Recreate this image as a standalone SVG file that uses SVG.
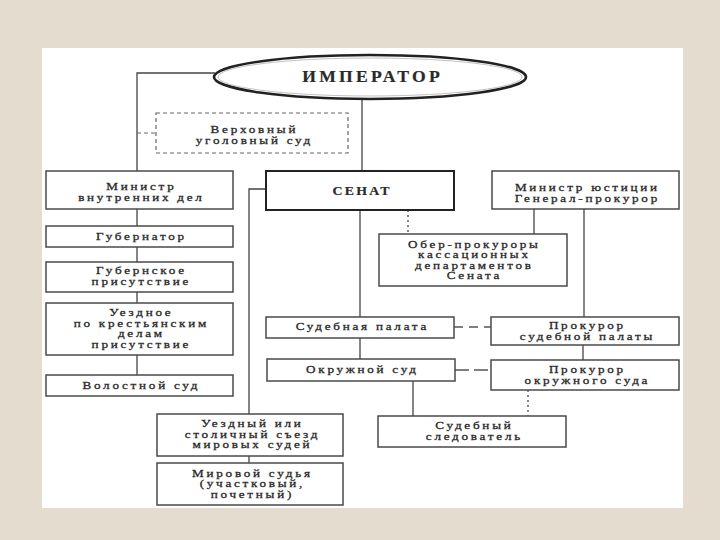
<svg xmlns="http://www.w3.org/2000/svg" width="720" height="540" viewBox="0 0 720 540">
<style>
.box{fill:#fff;stroke:#4a4a4a;stroke-width:1.5}
.bold{stroke:#222;stroke-width:2}
.dbox{fill:#fff;stroke:#666;stroke-width:1.2;stroke-dasharray:4 3}
.ln{fill:none;stroke:#444;stroke-width:1.3}
.dash{fill:none;stroke:#555;stroke-width:1.3;stroke-dasharray:9 6}
.dash2{fill:none;stroke:#555;stroke-width:1.3;stroke-dasharray:14 5}
.dashs{fill:none;stroke:#666;stroke-width:1.2;stroke-dasharray:4 3}
.dot{fill:none;stroke:#666;stroke-width:1.6;stroke-dasharray:2 3}
text{font-family:"Liberation Serif","Times New Roman",serif;font-size:10.5px;fill:#2a2a2a;stroke:#2a2a2a;stroke-width:0.3;text-anchor:middle;letter-spacing:2.2px}
.t-b{font-weight:bold;stroke-width:0.2}
</style>
<rect x="0" y="0" width="720" height="540" fill="#e4dccf"/>
<rect x="42" y="48" width="641" height="460" fill="#fff"/>

<g id="connectors">
  <polyline class="ln" points="215,73 137,73 137,171"/>
  <line class="dashs" x1="137" y1="133" x2="156" y2="133"/>
  <line class="ln" x1="362" y1="100" x2="362" y2="171"/>
  <line class="ln" x1="137" y1="209" x2="137" y2="226"/>
  <line class="ln" x1="137" y1="247" x2="137" y2="262"/>
  <line class="ln" x1="137" y1="292" x2="137" y2="303"/>
  <line class="ln" x1="137" y1="355" x2="137" y2="375"/>
  <polyline class="ln" points="266,189 249,189 249,414"/>
  <line class="ln" x1="249" y1="456" x2="249" y2="463"/>
  <line class="ln" x1="360" y1="210" x2="360" y2="317"/>
  <line class="dot" x1="408" y1="210" x2="408" y2="234"/>
  <line class="ln" x1="534" y1="209" x2="534" y2="234"/>
  <line class="ln" x1="584" y1="209" x2="584" y2="317"/>
  <line class="dash" x1="454" y1="327" x2="491" y2="327"/>
  <line class="ln" x1="360" y1="338" x2="360" y2="359"/>
  <line class="ln" x1="583" y1="345" x2="583" y2="360"/>
  <line class="dash2" x1="455" y1="370" x2="491" y2="370"/>
  <line class="ln" x1="413" y1="381" x2="413" y2="416"/>
  <line class="dot" x1="528" y1="390" x2="528" y2="416"/>
</g>

<g id="emperor">
  <ellipse cx="370" cy="77" rx="156" ry="22" fill="#fff" stroke="#222" stroke-width="2.6"/>
  <ellipse cx="370" cy="77" rx="152" ry="19" fill="none" stroke="#999" stroke-width="0.6"/>
  <text transform="translate(371,0) scale(1.1,1)" x="1.5" y="82" class="t-b" style="font-size:16px;letter-spacing:3px">ИМПЕРАТОР</text>
</g>

<g id="verkhovny">
  <rect class="dbox" x="156" y="113" width="192" height="40"/>
  <text transform="translate(253,0) scale(1.25,1)" x="1.1" y="133">Верховный</text>
  <text transform="translate(253,0) scale(1.25,1)" x="1.1" y="144">уголовный суд</text>
</g>

<g id="mvd">
  <rect class="box" x="46" y="171" width="187" height="38"/>
  <text transform="translate(140,0) scale(1.25,1)" x="1.1" y="190">Министр</text>
  <text transform="translate(140,0) scale(1.25,1)" x="1.1" y="201">внутренних дел</text>
</g>

<g id="gubernator">
  <rect class="box" x="46" y="226" width="187" height="21"/>
  <text transform="translate(140,0) scale(1.25,1)" x="1.1" y="240">Губернатор</text>
</g>

<g id="gub-prisut">
  <rect class="box" x="46" y="262" width="187" height="30"/>
  <text transform="translate(140,0) scale(1.25,1)" x="1.1" y="274">Губернское</text>
  <text transform="translate(140,0) scale(1.25,1)" x="1.1" y="285">присутствие</text>
</g>

<g id="uezd-prisut">
  <rect class="box" x="46" y="303" width="187" height="52"/>
  <text transform="translate(140,0) scale(1.25,1)" x="1.1" y="316">Уездное</text>
  <text transform="translate(140,0) scale(1.25,1)" x="1.1" y="327">по крестьянским</text>
  <text transform="translate(140,0) scale(1.25,1)" x="1.1" y="337.5">делам</text>
  <text transform="translate(140,0) scale(1.25,1)" x="1.1" y="348">присутствие</text>
</g>

<g id="volost">
  <rect class="box" x="46" y="375" width="187" height="21"/>
  <text transform="translate(140,0) scale(1.25,1)" x="1.1" y="389">Волостной суд</text>
</g>

<g id="senat">
  <rect class="box bold" x="266" y="171" width="188" height="39"/>
  <text transform="translate(361,0) scale(1.15,1)" x="1" y="195" class="t-b" style="font-size:12px;letter-spacing:2px">СЕНАТ</text>
</g>

<g id="minjust">
  <rect class="box" x="492" y="171" width="187" height="38"/>
  <text transform="translate(586,0) scale(1.25,1)" x="1.1" y="191">Министр юстиции</text>
  <text transform="translate(586,0) scale(1.25,1)" x="1.1" y="202">Генерал-прокурор</text>
</g>

<g id="ober">
  <rect class="box" x="379" y="234" width="188" height="52"/>
  <text transform="translate(473,0) scale(1.25,1)" x="1.1" y="248">Обер-прокуроры</text>
  <text transform="translate(473,0) scale(1.25,1)" x="1.1" y="258.5">кассационных</text>
  <text transform="translate(473,0) scale(1.25,1)" x="1.1" y="269">департаментов</text>
  <text transform="translate(473,0) scale(1.25,1)" x="1.1" y="279.5">Сената</text>
</g>

<g id="sud-palata">
  <rect class="box" x="266" y="317" width="188" height="21"/>
  <text transform="translate(361,0) scale(1.25,1)" x="1.1" y="330">Судебная палата</text>
</g>

<g id="prok-palata">
  <rect class="box" x="491" y="317" width="188" height="28"/>
  <text transform="translate(586,0) scale(1.25,1)" x="1.1" y="329">Прокурор</text>
  <text transform="translate(586,0) scale(1.25,1)" x="1.1" y="340">судебной палаты</text>
</g>

<g id="okr-sud">
  <rect class="box" x="267" y="359" width="188" height="22"/>
  <text transform="translate(361,0) scale(1.25,1)" x="1.1" y="373">Окружной суд</text>
</g>

<g id="prok-okr">
  <rect class="box" x="491" y="360" width="188" height="30"/>
  <text transform="translate(586,0) scale(1.25,1)" x="1.1" y="373">Прокурор</text>
  <text transform="translate(586,0) scale(1.25,1)" x="1.1" y="384">окружного суда</text>
</g>

<g id="sled">
  <rect class="box" x="378" y="416" width="188" height="31"/>
  <text transform="translate(473,0) scale(1.25,1)" x="1.1" y="429">Судебный</text>
  <text transform="translate(473,0) scale(1.25,1)" x="1.1" y="440">следователь</text>
</g>

<g id="sezd">
  <rect class="box" x="157" y="414" width="186" height="42"/>
  <text transform="translate(251,0) scale(1.25,1)" x="1.1" y="427.5">Уездный или</text>
  <text transform="translate(251,0) scale(1.25,1)" x="1.1" y="438">столичный съезд</text>
  <text transform="translate(251,0) scale(1.25,1)" x="1.1" y="448.5">мировых судей</text>
</g>

<g id="mir-sud">
  <rect class="box" x="157" y="463" width="186" height="42"/>
  <text transform="translate(251,0) scale(1.25,1)" x="1.1" y="477">Мировой судья</text>
  <text transform="translate(251,0) scale(1.25,1)" x="1.1" y="487.5">(участковый,</text>
  <text transform="translate(251,0) scale(1.25,1)" x="1.1" y="498">почетный)</text>
</g>
</svg>
